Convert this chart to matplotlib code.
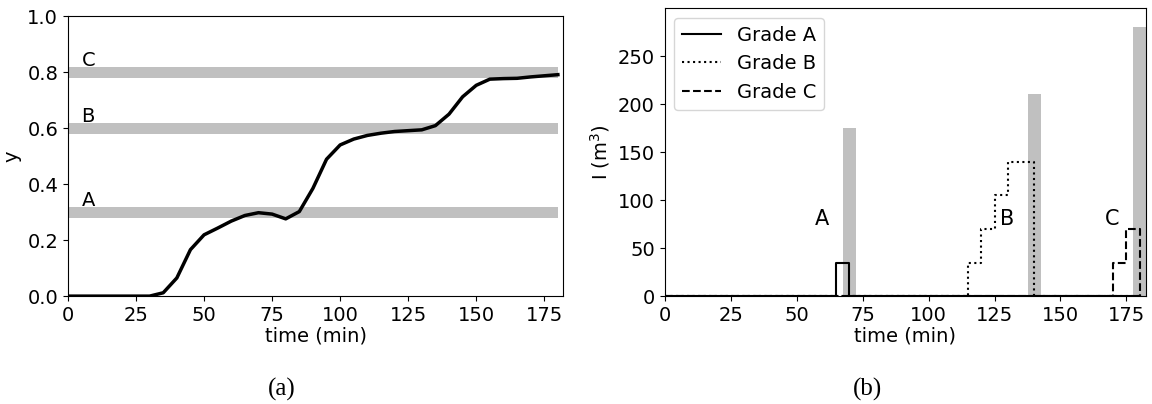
import matplotlib

matplotlib.use("Agg")
import matplotlib.pyplot as plt
import numpy as np

# (a) purity-like trajectory, sampled every 5 min
time_a = [0, 5, 10, 15, 20, 25, 30, 35, 40, 45, 50, 55, 60, 65, 70, 75, 80, 85, 90,
          95, 100, 105, 110, 115, 120, 125, 130, 135, 140, 145, 150, 155, 160, 165,
          170, 175, 180]
y_a = [0.0, 0.0, 0.0, 0.0, 0.0, 0.0, 0.0, 0.012, 0.065, 0.166, 0.219, 0.243, 0.268,
       0.288, 0.298, 0.293, 0.276, 0.302, 0.385, 0.489, 0.54, 0.561, 0.574, 0.582,
       0.588, 0.591, 0.594, 0.609, 0.65, 0.712, 0.753, 0.775, 0.777, 0.778, 0.783,
       0.787, 0.791]
grade_labels = ["A", "B", "C"]
grade_levels = [0.3, 0.6, 0.8]

# (b) inventory per grade (step-post), and tank demands
time_b = [0, 65, 70, 115, 120, 125, 130, 135, 140, 170, 175, 180]
inv_a = [0, 35, 0, 0, 0, 0, 0, 0, 0, 0, 0, 0]
inv_b = [0, 0, 0, 35, 70, 105, 140, 140, 0, 0, 0, 0]
inv_c = [0, 0, 0, 0, 0, 0, 0, 0, 0, 35, 70, 0]
demand_t = [70, 140, 180]
demand_v = [175, 210, 280]

GREY = "#c0c0c0"
FS = 14

plt.rcParams.update({"font.size": FS, "font.family": "DejaVu Sans"})

fig = plt.figure(figsize=(11.52, 4.04), dpi=100)
ax1 = fig.add_axes([0.059, 0.267, 0.430, 0.693])
ax2 = fig.add_axes([0.577, 0.267, 0.418, 0.713])

# --- panel (a)
for lab, lev in zip(grade_labels, grade_levels):
    ax1.fill_between([0, 180], lev - 0.02, lev + 0.02, color=GREY, linewidth=0)
    ax1.text(5, lev + 0.022, lab, fontsize=FS, va="baseline")
ax1.plot(time_a, y_a, color="black", linewidth=2.5)
ax1.set_xlim(0, 182)
ax1.set_ylim(0, 1.0)
ax1.set_xticks(np.arange(0, 176, 25))
ax1.set_yticks(np.arange(0, 1.01, 0.2))
ax1.set_xlabel("time (min)", labelpad=1)
ax1.set_ylabel("y")

# --- panel (b)
ax2.bar(demand_t, demand_v, width=5, color=GREY, zorder=1)
ax2.plot(time_b, inv_a, drawstyle="steps-post", color="black", linestyle="-",
         linewidth=1.5, label="Grade A", zorder=3)
ax2.plot(time_b, inv_b, drawstyle="steps-post", color="black", linestyle=":",
         linewidth=1.5, label="Grade B", zorder=3)
ax2.plot(time_b, inv_c, drawstyle="steps-post", color="black", linestyle="--",
         linewidth=1.5, label="Grade C", zorder=3)
for lab, t in zip(grade_labels, demand_t):
    ax2.text(t - 13, 74, lab, fontsize=15, va="baseline")
ax2.set_xlim(0, 182.5)
ax2.set_ylim(0, 300)
ax2.set_xticks(np.arange(0, 176, 25))
ax2.set_yticks(np.arange(0, 251, 50))
ax2.set_xlabel("time (min)", labelpad=1)
ax2.set_ylabel("I (m$^3$)")
ax2.legend(loc="upper left", fontsize=FS, handlelength=2.0)

# captions
fig.text(282 / 1152, 1 - 389 / 404, "(a)", ha="center", va="center",
         fontsize=18, family="Liberation Serif")
fig.text(868 / 1152, 1 - 389 / 404, "(b)", ha="center", va="center",
         fontsize=18, family="Liberation Serif")

fig.savefig("out.png", dpi=100)
